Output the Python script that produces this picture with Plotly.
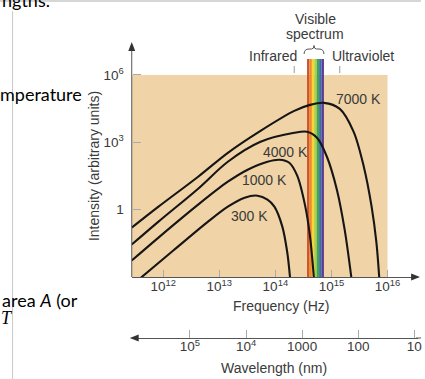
import math
import plotly.graph_objects as go

# ---------------- data ----------------
temperature_labels = ["300 K", "1000 K", "4000 K", "7000 K"]

freq_300K = [3.65e11, 1.51e12, 6.29e12, 1.42e13, 2.83e13, 4.81e13, 7.23e13, 9.60e13, 1.33e14, 1.63e14, 1.84e14]
intensity_300K = [7.7e-4, 0.0151, 0.293, 1.36, 3.41, 4.19, 2.78, 1.36, 0.176, 0.0123, 7.7e-4]

freq_1000K = [2.74e11, 8.22e11, 4.19e12, 1.42e13, 3.20e13, 7.23e13, 1.18e14, 1.77e14, 2.45e14, 3.39e14, 4.15e14, 4.89e14]
intensity_1000K = [0.0054, 0.057, 1.67, 17.5, 60, 136, 167, 123, 32.5, 1.51, 0.063, 7.7e-4]

freq_4000K = [2.74e11, 8.22e11, 4.19e12, 1.42e13, 5.43e13, 2.17e14, 3.67e14, 5.52e14, 8.30e14, 1.25e15, 1.72e15, 2.29e15]
intensity_4000K = [0.0278, 0.293, 8.58, 136, 1.05e3, 2.64e3, 2.93e3, 1.58e3, 227, 7.74, 0.129, 7.7e-4]

freq_7000K = [2.74e11, 8.22e11, 4.19e12, 1.42e13, 5.43e13, 2.17e14, 4.15e14, 7.35e14, 1.41e15, 2.49e15, 3.74e15, 5.17e15, 6.34e15, 7.16e15]
intensity_7000K = [0.158, 1.36, 29.3, 341, 3.24e3, 2.51e4, 4.64e4, 5.70e4, 3.08e4, 2.93e3, 90.3, 1.51, 0.0341, 7.7e-4]

freq_tick_values = [1e12, 1e13, 1e14, 1e15, 1e16]
freq_tick_labels = ["10<sup>12</sup>", "10<sup>13</sup>", "10<sup>14</sup>", "10<sup>15</sup>", "10<sup>16</sup>"]
wavelength_tick_values = [1e5, 1e4, 1000, 100, 10]
wavelength_tick_labels = ["10<sup>5</sup>", "10<sup>4</sup>", "1000", "100", "10"]
intensity_tick_values = [1, 1e3, 1e6]
intensity_tick_labels = ["1", "10<sup>3</sup>", "10<sup>6</sup>"]

visible_band_hz = [3.67e14, 7.35e14]
spectrum_colors = ["#CF532D", "#EE8A2A", "#F4D63C", "#A9D04A", "#3FA84C", "#3B6DB5", "#5B3E93"]
background_extent_hz = 1e16
background_extent_intensity = [1e-3, 1e6]

# ---------------- layout helpers ----------------
W, H = 425, 379
def px(x):
    return x / W
def py(y):
    return 1 - y / H

Y_BOTTOM_PX, Y_TOP_PX = 277, 44
FREQ_RANGE = [11.4382, 16.5442]          # pixel 133 .. 422
WL_RANGE = [17.4768 - FREQ_RANGE[0], 17.4768 - FREQ_RANGE[1]]  # same span, reversed (nm)
INT_RANGE = [-3, 7.378]

def intensity_at_px(ypx):
    frac = (Y_BOTTOM_PX - ypx) / (Y_BOTTOM_PX - Y_TOP_PX)
    return 10 ** (INT_RANGE[0] + (INT_RANGE[1] - INT_RANGE[0]) * frac)

CHART_FONT = "Liberation Sans, Arial, sans-serif"
TXT = "#3a3a3a"
DOC_FONT = "Lato, Open Sans, sans-serif"

fig = go.Figure()

series = [
    (freq_300K, intensity_300K),
    (freq_1000K, intensity_1000K),
    (freq_4000K, intensity_4000K),
    (freq_7000K, intensity_7000K),
]
for (f, i), name in zip(series, temperature_labels):
    fig.add_trace(go.Scatter(
        x=f, y=i, name=name, mode="lines",
        line=dict(color="#161616", width=2.1, shape="spline", smoothing=0.9),
        hoverinfo="skip", showlegend=False, xaxis="x", yaxis="y",
    ))

# invisible trace to register the wavelength axis
fig.add_trace(go.Scatter(
    x=wavelength_tick_values, y=[1] * len(wavelength_tick_values),
    mode="markers", marker=dict(opacity=0), xaxis="x2", yaxis="y",
    hoverinfo="skip", showlegend=False,
))

shapes = []
# tan background
shapes.append(dict(type="rect", xref="x", yref="y",
                   x0=10 ** FREQ_RANGE[0], x1=background_extent_hz,
                   y0=background_extent_intensity[0], y1=background_extent_intensity[1],
                   fillcolor="#F0D3A6", line=dict(width=0), layer="below"))
# spectrum stripes
lo, hi = math.log10(visible_band_hz[0]), math.log10(visible_band_hz[1])
n = len(spectrum_colors)
for k, c in enumerate(spectrum_colors):
    a = 10 ** (lo + (hi - lo) * k / n)
    b = 10 ** (lo + (hi - lo) * (k + 1) / n)
    shapes.append(dict(type="rect", xref="x", yref="y", x0=a, x1=b,
                       y0=background_extent_intensity[0], y1=intensity_at_px(59),
                       fillcolor=c, line=dict(width=0), layer="below"))

def path(points, close=True):
    s = "M " + " L ".join(f"{px(x):.5f},{py(y):.5f}" for x, y in points)
    return s + (" Z" if close else "")

# y axis line + arrowheads
shapes.append(dict(type="line", xref="paper", yref="paper", x0=px(133), x1=px(133),
                   y0=py(277), y1=py(46), line=dict(color="#555", width=1)))
shapes.append(dict(type="path", xref="paper", yref="paper",
                   path=path([(133, 42), (129.5, 51), (136.5, 51)]),
                   fillcolor="#333", line=dict(width=0)))
shapes.append(dict(type="path", xref="paper", yref="paper",
                   path=path([(424, 277), (415, 273.5), (415, 280.5)]),
                   fillcolor="#333", line=dict(width=0)))
shapes.append(dict(type="line", xref="paper", yref="paper", x0=px(420), x1=1,
                   y0=py(338), y1=py(338), line=dict(color="#555", width=1)))
shapes.append(dict(type="path", xref="paper", yref="paper",
                   path=path([(131, 338), (140, 334.5), (140, 341.5)]),
                   fillcolor="#333", line=dict(width=0)))
# infrared / ultraviolet marks
for xm in (297, 343):
    shapes.append(dict(type="line", xref="paper", yref="paper",
                       x0=px(xm), x1=px(xm), y0=py(66), y1=py(73),
                       line=dict(color="#999", width=1)))
# brace
bp = (f"M {px(307):.5f},{py(54):.5f} Q {px(307):.5f},{py(49):.5f} {px(312):.5f},{py(49):.5f} "
      f"L {px(314.5):.5f},{py(49):.5f} Q {px(317):.5f},{py(49):.5f} {px(317):.5f},{py(45.5):.5f} "
      f"Q {px(317):.5f},{py(49):.5f} {px(319.5):.5f},{py(49):.5f} L {px(322):.5f},{py(49):.5f} "
      f"Q {px(327):.5f},{py(49):.5f} {px(327):.5f},{py(54):.5f}")
shapes.append(dict(type="path", xref="paper", yref="paper", path=bp,
                   line=dict(color="#555", width=1)))
# document frame lines
shapes.append(dict(type="line", xref="paper", yref="paper", x0=0, x1=1, y0=py(1), y1=py(1),
                   line=dict(color="#c9c9c9", width=1.5)))
shapes.append(dict(type="line", xref="paper", yref="paper", x0=px(12.7), x1=px(12.7), y0=py(11), y1=0,
                   line=dict(color="#c9c9c9", width=1)))

annotations = []
def txt(t, x, y, size=14, color=TXT, family=CHART_FONT, xanchor="center", angle=0):
    annotations.append(dict(text=t, x=px(x), y=py(y), xref="paper", yref="paper",
                            showarrow=False, xanchor=xanchor, yanchor="middle",
                            textangle=angle, font=dict(size=size, color=color, family=family)))

txt("Visible", 318, 19)
txt("spectrum", 318, 34)
txt("Infrared", 276, 56)
txt("Ultraviolet", 366, 56)
txt("7000 K", 361.5, 99)
txt("4000 K", 288.5, 152)
txt("1000 K", 267.5, 179.5)
txt("300 K", 252, 216)
txt("Frequency (Hz)", 284, 306)
txt("Wavelength (nm)", 277, 368)
txt("Intensity (arbitrary units)", 95, 166, angle=-90)

# surrounding document text
txt("ngths.", 0, 0, size=18, color="#000", family=DOC_FONT, xanchor="left")
txt("mperature", -2, 94, size=18, color="#000", family=DOC_FONT, xanchor="left")
txt("area <i>A</i> (or", 0, 300, size=18, color="#000", family=DOC_FONT, xanchor="left")
txt("<i>T</i>", -1, 318, size=18, color="#000", family="Liberation Serif, serif", xanchor="left")

tickfont = dict(size=13.5, color=TXT, family=CHART_FONT)
fig.update_layout(
    width=W, height=H,
    margin=dict(l=0, r=0, t=0, b=0),
    paper_bgcolor="white", plot_bgcolor="rgba(0,0,0,0)",
    xaxis=dict(type="log", domain=[px(133), px(422)], range=FREQ_RANGE,
               anchor="free", position=py(277),
               showline=True, linecolor="#555", linewidth=1,
               ticks="inside", ticklen=7, tickcolor="#aaa", tickwidth=1,
               tickvals=freq_tick_values, ticktext=freq_tick_labels,
               tickfont=tickfont, ticklabelstandoff=-3,
               showgrid=False, zeroline=False),
    xaxis2=dict(type="log", range=WL_RANGE, overlaying="x",
                anchor="free", position=py(338),
                showline=True, linecolor="#555", linewidth=1,
                ticks="inside", ticklen=8, tickcolor="#aaa", tickwidth=1,
                tickvals=wavelength_tick_values, ticktext=wavelength_tick_labels,
                tickfont=tickfont, ticklabelstandoff=-4, ticklabeloverflow="allow",
                showgrid=False, zeroline=False),
    yaxis=dict(type="log", domain=[py(277), py(44)], range=INT_RANGE,
               anchor="free", position=px(133),
               showline=False,
               ticks="inside", ticklen=8, tickcolor="#aaa", tickwidth=1,
               tickvals=intensity_tick_values, ticktext=intensity_tick_labels,
               tickfont=tickfont, ticklabelstandoff=8,
               showgrid=False, zeroline=False),
    shapes=shapes,
    annotations=annotations,
    showlegend=False,
)

fig.write_html("out.html", config={"displayModeBar": False},
               post_script="document.body.style.margin='0';document.body.style.overflow='hidden';")
